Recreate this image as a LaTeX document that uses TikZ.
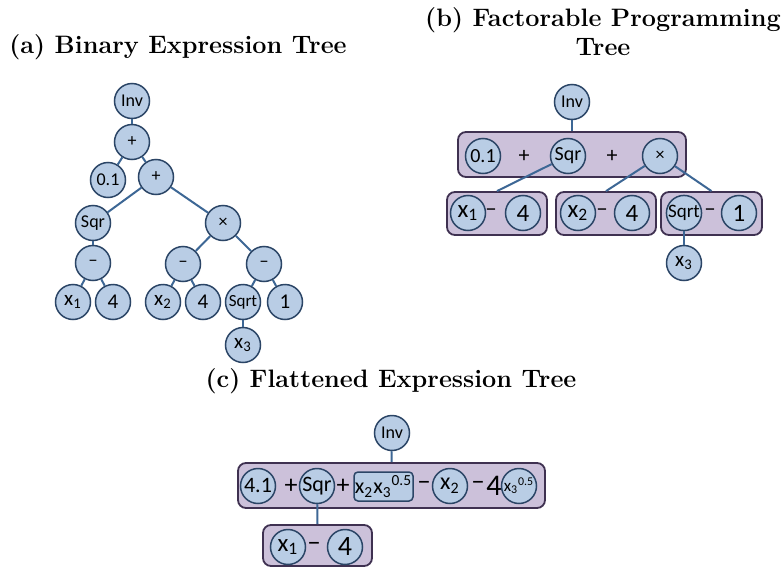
\documentclass[tikz,border=0pt]{standalone}
\usepackage{fontspec}
\newfontfamily\calibri{Carlito}
\usetikzlibrary{positioning,fit}
\definecolor{TreeFill}{HTML}{B9CDE5}
\definecolor{TreeLine}{HTML}{2B4566}
\definecolor{TreeEdge}{HTML}{3D6795}
\definecolor{GroupFill}{HTML}{CCC1DA}
\definecolor{GroupLine}{HTML}{3F3151}
\newcommand{\nodefont}[1]{\calibri\fontsize{#1}{#1}\selectfont}

\begin{document}
\begin{tikzpicture}[x=0.5pt,y=-0.5pt]
    \tikzset{opnode/.style={circle,draw=TreeLine,fill=TreeFill,line width=0.75pt,
      minimum size=17.5pt,inner sep=0pt,font=\nodefont{9}},
      leafnode/.style={opnode,font=\nodefont{10.5}},
      bigleaf/.style={opnode,font=\nodefont{12.5}},
      groupbox/.style={draw=GroupLine,fill=GroupFill,line width=0.9pt,
        rounded corners=4pt,inner sep=0pt},
      opsym/.style={inner sep=0pt,font=\nodefont{11}},
      link/.style={TreeEdge,line width=1pt},
      caption/.style={font=\fontsize{12.6}{14.5}\selectfont\bfseries,align=center}}
    \useasboundingbox (0,0) rectangle (783,568);
    % (a) binary tree
    \node[caption] (capa) at (178,47) {(a) Binary Expression Tree};
    \node[opnode] (ainv) at (132,101) {Inv};
    \node[opnode] (aplus) at (132,142) {+};
    \node[opnode] (aconst) at (108,180) {0.1};
    \node[opnode] (aplusb) at (156,177) {+};
    \node[opnode] (asqr) at (93,223) {Sqr};
    \node[opnode] (atimes) at (223,223) {×};
    \node[opnode] (aminl) at (93,263) {−};
    \node[opnode] (aminm) at (183,264) {−};
    \node[opnode] (aminr) at (264,264) {−};
    \node[leafnode] (ax1) at (73,302) {x\textsubscript{1}};
    \node[leafnode] (afour) at (113,302) {4};
    \node[leafnode] (ax2) at (163,302) {x\textsubscript{2}};
    \node[leafnode] (afourb) at (203,302) {4};
    \node[opnode,font=\nodefont{8.5}] (asqrt) at (243,302) {Sqrt};
    \node[leafnode] (aone) at (285,302) {1};
    \node[leafnode] (ax3) at (243,345) {x\textsubscript{3}};
    \draw[link] (ainv)--(aplus);
    \draw[link] (aplus)--(aconst);
    \draw[link] (aplus)--(aplusb);
    \draw[link] (aplusb)--(asqr);
    \draw[link] (aplusb)--(atimes);
    \draw[link] (asqr)--(aminl);
    \draw[link] (aminl)--(ax1);
    \draw[link] (aminl)--(afour);
    \draw[link] (atimes)--(aminm);
    \draw[link] (atimes)--(aminr);
    \draw[link] (aminm)--(ax2);
    \draw[link] (aminm)--(afourb);
    \draw[link] (aminr)--(asqrt);
    \draw[link] (aminr)--(aone);
    \draw[link] (asqrt)--(ax3);
    % (b) factorable tree
    \node[caption] (capb) at (603,32) {(b) Factorable Programming\\Tree};
    \node[groupbox,fit={(458,132) (686,177)}] (bmain) {};
    \node[groupbox,fit={(447,192) (547,235)}] (bleft) {};
    \node[groupbox,fit={(556,192) (656,235)}] (bmid) {};
    \node[groupbox,fit={(661,192) (762,235)}] (bright) {};
    \node[opnode] (binv) at (572,102) {Inv};
    \node[opnode,font=\nodefont{10}] (bconst) at (483,156) {0.1};
    \node[opsym] (bplus) at (524,156) {+};
    \node[opnode,font=\nodefont{10}] (bsqr) at (568,156) {Sqr};
    \node[opsym] (bplusb) at (612,156) {+};
    \node[opnode] (btimes) at (660,156) {×};
    \node[bigleaf] (bx1) at (468,213) {x\textsubscript{1}};
    \node[opsym] (bminl) at (491,213) {−};
    \node[bigleaf] (bfour) at (523,213) {4};
    \node[bigleaf] (bx2) at (578,213) {x\textsubscript{2}};
    \node[opsym] (bminm) at (602,213) {−};
    \node[bigleaf] (bfourb) at (632,213) {4};
    \node[opnode,font=\nodefont{9.5}] (bsqrt) at (684,213) {Sqrt};
    \node[opsym] (bminr) at (710,213) {−};
    \node[bigleaf] (bone) at (739,213) {1};
    \node[leafnode] (bx3) at (684,263) {x\textsubscript{3}};
    \draw[link] (binv)--(bmain.north);
    \draw[link] (bsqr)--(bleft.north);
    \draw[link] (btimes)--(bmid.north);
    \draw[link] (btimes)--(bright.north);
    \draw[link] (bsqrt)--(bx3);
    % (c) flattened tree
    \node[caption] (capc) at (391,381) {(c) Flattened Expression Tree};
    \node[groupbox,fit={(238,463) (545,508)}] (cmain) {};
    \node[groupbox,fit={(263,525) (372,566)}] (cleft) {};
    \node[opnode] (cinv) at (392,433) {Inv};
    \node[opnode,font=\nodefont{11}] (cconst) at (258,486) {4.1};
    \node[opsym,font=\nodefont{13}] (cplus) at (291,486) {+};
    \node[opnode,font=\nodefont{11}] (csqr) at (317,486) {Sqr};
    \node[opsym,font=\nodefont{13}] (cplusb) at (343,486) {+};
    \node[rectangle,draw=TreeLine,fill=TreeFill,line width=0.75pt,rounded corners=2pt,
      minimum width=29.5pt,minimum height=14.5pt,inner sep=0pt,font=\nodefont{11}]
      (cprod) at (383.5,486.5) {x\textsubscript{2}x\textsubscript{3}\textsuperscript{0.5}};
    \node[opsym,font=\nodefont{13}] (cminl) at (424,486) {−};
    \node[opnode,font=\nodefont{12}] (cx2) at (450,486) {x\textsubscript{2}};
    \node[opsym,font=\nodefont{13}] (cminr) at (478,486) {−};
    \node[opsym,font=\nodefont{15}] (cfour) at (494,486) {4};
    \node[opnode,font=\nodefont{8.5}] (cpow) at (519,486) {x\textsubscript{3}\textsuperscript{0.5}};
    \node[bigleaf] (cx1) at (288,547) {x\textsubscript{1}};
    \node[opsym,font=\nodefont{13}] (cminb) at (314,547) {−};
    \node[opnode,font=\nodefont{14}] (cfourb) at (345,547) {4};
    \draw[link] (cinv)--(cmain.north);
    \draw[link] (csqr)--(cleft.north);
  \end{tikzpicture}
\end{document}
